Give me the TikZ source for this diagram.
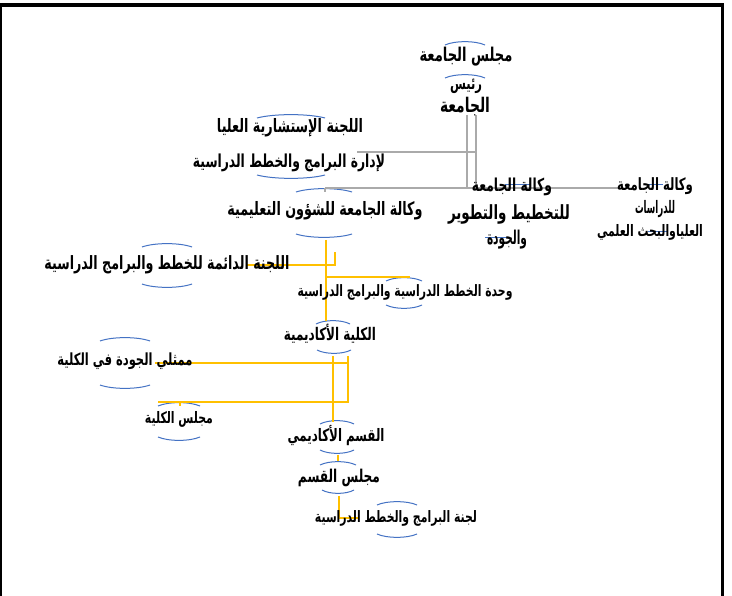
\documentclass[tikz,border=0pt]{standalone}
\usepackage{fontspec}
\usepackage{graphicx}
\TeXXeTstate=1
\newfontfamily\arabicfont[Script=Arabic]{DejaVu Sans}
\newcommand\artxt[3][1.45]{\resizebox{#2pt}{!}{\scalebox{1}[#1]{\arabicfont\bfseries #3}}}
\definecolor{arcblue}{RGB}{68,114,196}
\definecolor{lineyel}{RGB}{255,192,0}
\definecolor{linegray}{RGB}{170,170,170}
\tikzset{
  lbl/.style={inner sep=0pt, anchor=center},
  arcline/.style={draw=arcblue, line width=1pt},
  yline/.style={draw=lineyel, line width=1.3pt},
  gline/.style={draw=linegray, line width=1.3pt},
}
\newcommand\toparc[3]{\draw[arcline] (#1-#3,#2+3) .. controls (#1-#3/2,#2-1.5) and (#1+#3/2,#2-1.5) .. (#1+#3,#2+3);}
\newcommand\botarc[3]{\draw[arcline] (#1-#3,#2-3) .. controls (#1-#3/2,#2+1.5) and (#1+#3/2,#2+1.5) .. (#1+#3,#2-3);}
\begin{document}
\begin{tikzpicture}[x=1pt,y=-1pt]
\useasboundingbox (0,0) rectangle (732,596);
\fill[white] (0,0) rectangle (732,596);
% frame
\draw[line width=4pt] (0,5) -- (724,5);
\draw[line width=1.5pt] (1,5) -- (1,596);
\draw[line width=3pt] (722,5) -- (722,596);

% arcs
\toparc{465}{42}{20}
\toparc{465}{75}{20}
\toparc{291}{115}{34}
\botarc{291}{178}{34}
\toparc{324}{189}{28}
\botarc{324}{237}{28}
\toparc{167}{244}{25}
\botarc{167}{287}{25}
\toparc{404}{278}{18}
\botarc{404}{308}{18}
\toparc{333}{321}{17}
\botarc{334}{353}{17}
\toparc{125}{338}{25}
\botarc{125}{388}{25}
\toparc{179}{403}{21}
\botarc{179}{440}{21}
\toparc{337}{421}{17}
\botarc{337}{453}{17}
\toparc{338}{462}{18}
\botarc{338}{493}{16}
\toparc{397}{502}{20}
\botarc{397}{537}{20}
\draw[arcline] (505,185) -- (530,185);
\draw[arcline] (485,238) -- (508,238);
\draw[arcline] (647,185) -- (663,185);
\draw[arcline] (648,232) -- (667,232);

% gray connectors
\coordinate (ga) at (467,115);
\coordinate (gb) at (476,115);
\coordinate (gc) at (467,188);
\coordinate (gd) at (476,188);
\coordinate (ge) at (476,152);
\coordinate (gf) at (357,152);
\coordinate (gl) at (325,188);
\coordinate (gr) at (620,188);
\draw[gline] (ga) -- (gc);
\draw[gline] (gb) -- (gd);
\draw[gline] (ge) -- (gf);
\draw[gline] (gl) -- (gr);
\draw[gline] (gl) -- ++(0,4);

% yellow connectors
\coordinate (y1) at (326,240);
\coordinate (y2) at (326,321);
\draw[yline] (y1) -- (y2);
\draw[yline] (247,265) -- (335,265) -- (335,252);
\draw[yline] (326,277) -- (410,277);
\draw[yline] (333,356) -- (333,422);
\draw[yline] (348,356) -- (348,363) -- (155,363);
\draw[yline] (348,363) -- (348,402) -- (158,402);
\draw[yline] (180,402) -- (180,406);
\draw[yline] (338,455) -- (338,461);
\draw[yline] (339,496) -- (339,518) -- (358,518);

% labels
\node[lbl] (majlis) at (466,57) {\artxt{93}{\beginR مجلس الجامعة\endR}};
\node[lbl] (raees1) at (466,86) {\artxt{32}{\beginR رئيس\endR}};
\node[lbl] (raees2) at (465,107) {\artxt{50}{\beginR الجامعة\endR}};
\node[lbl] (lajna1) at (290,128) {\artxt{146}{\beginR اللجنة الإستشارية العليا\endR}};
\node[lbl] (lajna2) at (289,163) {\artxt{192}{\beginR لإدارة البرامج والخطط الدراسية\endR}};
\node[lbl] (wakala1) at (325,211) {\artxt{195}{\beginR وكالة الجامعة للشؤون التعليمية\endR}};
\node[lbl] (wakala2a) at (512,187) {\artxt{80}{\beginR وكالة الجامعة\endR}};
\node[lbl] (wakala2b) at (509,214) {\artxt{122}{\beginR للتخطيط والتطوير\endR}};
\node[lbl] (wakala2c) at (507,240) {\artxt[1.8]{40}{\beginR والجودة\endR}};
\node[lbl] (wakala3a) at (655,186) {\artxt{76}{\beginR وكالة الجامعة\endR}};
\node[lbl] (wakala3b) at (655,209) {\artxt[2]{40}{\beginR للدراسات\endR}};
\node[lbl] (wakala3c) at (650,232) {\artxt{106}{\beginR العلياوالبحث العلمي\endR}};
\node[lbl] (daema) at (167,265) {\artxt{245}{\beginR اللجنة الدائمة للخطط والبرامج الدراسية\endR}};
\node[lbl] (wahda) at (405,292) {\artxt{215}{\beginR وحدة الخطط الدراسية والبرامج الدراسية\endR}};
\node[lbl] (kulliya) at (330,334) {\artxt{92}{\beginR الكلية الأكاديمية\endR}};
\node[lbl] (mumath) at (125,361) {\artxt{135}{\beginR ممثلي الجودة في الكلية\endR}};
\node[lbl] (majkul) at (179,419) {\artxt{68}{\beginR مجلس الكلية\endR}};
\node[lbl] (qism) at (336,435) {\artxt{97}{\beginR القسم الأكاديمي\endR}};
\node[lbl] (majqism) at (339,478) {\artxt{82}{\beginR مجلس القسم\endR}};
\node[lbl] (lajqism) at (396,518) {\artxt{162}{\beginR لجنة البرامج والخطط الدراسية\endR}};
\end{tikzpicture}
\end{document}
